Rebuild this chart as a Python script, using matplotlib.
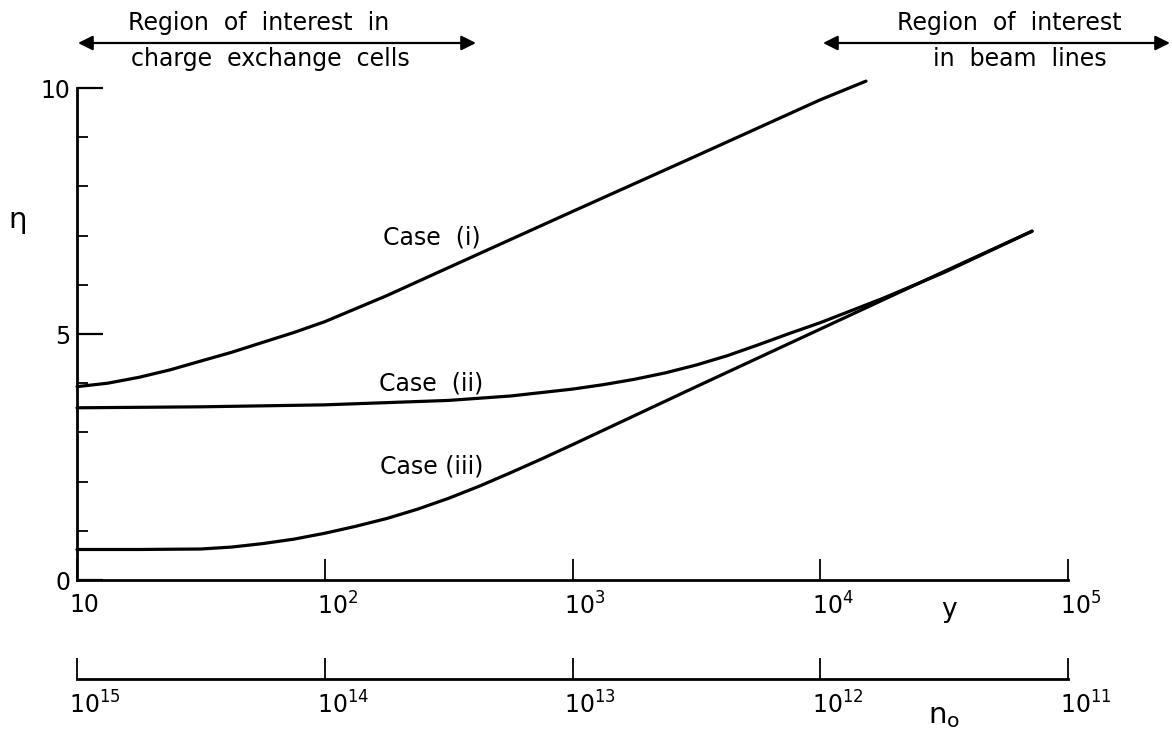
import numpy as np
import matplotlib.pyplot as plt
import matplotlib.transforms as mtransforms
from matplotlib.ticker import FixedLocator, NullLocator, FixedFormatter

plt.rcParams['font.family'] = ['DejaVu Sans']
plt.rcParams['mathtext.fontset'] = 'dejavusans'

# ---- data ----
y_case1 = [10, 13.3, 17.8, 23.7, 31.6, 42.2, 56.2, 75.0, 100, 178, 316, 562,
           1000, 3160, 10000, 15300]
eta_case1 = [3.93, 4.0, 4.12, 4.27, 4.45, 4.63, 4.83, 5.03, 5.25, 5.78, 6.35, 6.92,
             7.49, 8.62, 9.76, 10.14]

y_case2 = [10, 31.6, 100, 316, 562, 1000, 1330, 1780, 2370, 3160, 4220, 5620,
           7500, 10000, 17800, 31600, 71600]
eta_case2 = [3.5, 3.52, 3.56, 3.65, 3.74, 3.88, 3.97, 4.08, 4.21, 4.37, 4.56, 4.78,
             5.01, 5.23, 5.72, 6.25, 7.09]

y_case3 = [10, 17.8, 31.6, 42.2, 56.2, 75.0, 100, 133, 178, 237, 316, 422, 562,
           750, 1000, 3160, 10000, 31600, 71600]
eta_case3 = [0.62, 0.62, 0.63, 0.67, 0.74, 0.83, 0.95, 1.09, 1.25, 1.44, 1.66, 1.91,
             2.18, 2.46, 2.75, 3.93, 5.1, 6.27, 7.09]

y_ticks = [10, 1e2, 1e3, 1e4, 1e5]
y_ticklabels = ['10', '$10^2$', '$10^3$', '$10^4$', '$10^5$']
n0_ticks = [1e15, 1e14, 1e13, 1e12, 1e11]
n0_ticklabels = ['$10^{15}$', '$10^{14}$', '$10^{13}$', '$10^{12}$', '$10^{11}$']

W, H = 1172, 731
fig = plt.figure(figsize=(W / 100, H / 100), dpi=100)
ax = fig.add_axes([77 / W, 1 - 580 / H, (1068 - 77) / W, (580 - 88) / H])

for xs, ys in [(y_case1, eta_case1), (y_case2, eta_case2), (y_case3, eta_case3)]:
    ax.plot(xs, ys, color='black', lw=2.3, solid_capstyle='round',
            solid_joinstyle='round', clip_on=False)

ax.set_xscale('log')
ax.set_xlim(10, 1e5)
ax.set_ylim(0, 10)
ax.spines['top'].set_visible(False)
ax.spines['right'].set_visible(False)
ax.spines['left'].set_linewidth(2)
ax.spines['bottom'].set_linewidth(2)
ax.patch.set_visible(False)

shift = mtransforms.ScaledTranslation(-8 / 100, 0, fig.dpi_scale_trans)

ax.xaxis.set_major_locator(FixedLocator(y_ticks))
ax.xaxis.set_major_formatter(FixedFormatter(y_ticklabels))
ax.xaxis.set_minor_locator(NullLocator())
ax.tick_params(axis='x', which='major', direction='in', length=15, width=1.3,
               labelsize=17, pad=9)
for lab in ax.get_xticklabels():
    lab.set_ha('left')
    lab.set_transform(lab.get_transform() + shift)

ax.yaxis.set_major_locator(FixedLocator([0, 5, 10]))
ax.yaxis.set_major_formatter(FixedFormatter(['0', '5', '10']))
ax.yaxis.set_minor_locator(FixedLocator([1, 2, 3, 4, 6, 7, 8, 9]))
ax.tick_params(axis='y', which='major', direction='in', length=19, width=1.6,
               labelsize=17, pad=5)
ax.tick_params(axis='y', which='minor', direction='in', length=8, width=1.3)

ax.text(270, 6.97, 'Case  (i)', fontsize=17, ha='center', va='center')
ax.text(270, 4.0, 'Case  (ii)', fontsize=17, ha='center', va='center')
ax.text(270, 2.3, 'Case (iii)', fontsize=17, ha='center', va='center')

fig.text(18 / W, 1 - 220 / H, 'η', fontsize=21, ha='center', va='center')
fig.text(949 / W, 1 - 610 / H, 'y', fontsize=19, ha='center', va='center')

# second (lower) scale for n_o
ax2 = fig.add_axes([77 / W, 1 - 679 / H, (1068 - 77) / W, 0.01])
ax2.set_xscale('log')
ax2.set_xlim(1e15, 1e11)
for s in ['top', 'right', 'left']:
    ax2.spines[s].set_visible(False)
ax2.spines['bottom'].set_linewidth(2)
ax2.patch.set_visible(False)
ax2.set_yticks([])
ax2.xaxis.set_major_locator(FixedLocator(n0_ticks))
ax2.xaxis.set_major_formatter(FixedFormatter(n0_ticklabels))
ax2.xaxis.set_minor_locator(NullLocator())
ax2.tick_params(axis='x', which='major', direction='in', length=15, width=1.3,
                labelsize=17, pad=9)
for lab in ax2.get_xticklabels():
    lab.set_ha('left')
    lab.set_transform(lab.get_transform() + shift)
fig.text(944 / W, 1 - 716 / H, r'$\mathregular{n_o}$', fontsize=21,
         ha='center', va='center')

# regions of interest
arrow = dict(arrowstyle='<|-|>', color='black', lw=1.6, mutation_scale=22,
             shrinkA=0, shrinkB=0)
ax.annotate('', xy=(476 / W, 1 - 43 / H), xytext=(78 / W, 1 - 43 / H),
            xycoords='figure fraction', textcoords='figure fraction',
            arrowprops=arrow, annotation_clip=False)
ax.annotate('', xy=(1170 / W, 1 - 43 / H), xytext=(823 / W, 1 - 43 / H),
            xycoords='figure fraction', textcoords='figure fraction',
            arrowprops=arrow, annotation_clip=False)
fig.text(259 / W, 1 - 23 / H, 'Region  of  interest  in', fontsize=17,
         ha='center', va='center')
fig.text(270 / W, 1 - 59 / H, 'charge  exchange  cells', fontsize=17,
         ha='center', va='center')
fig.text(1009 / W, 1 - 23 / H, 'Region  of  interest', fontsize=17,
         ha='center', va='center')
fig.text(1020 / W, 1 - 59 / H, 'in  beam  lines', fontsize=17,
         ha='center', va='center')

fig.savefig('out.png', dpi=100)
